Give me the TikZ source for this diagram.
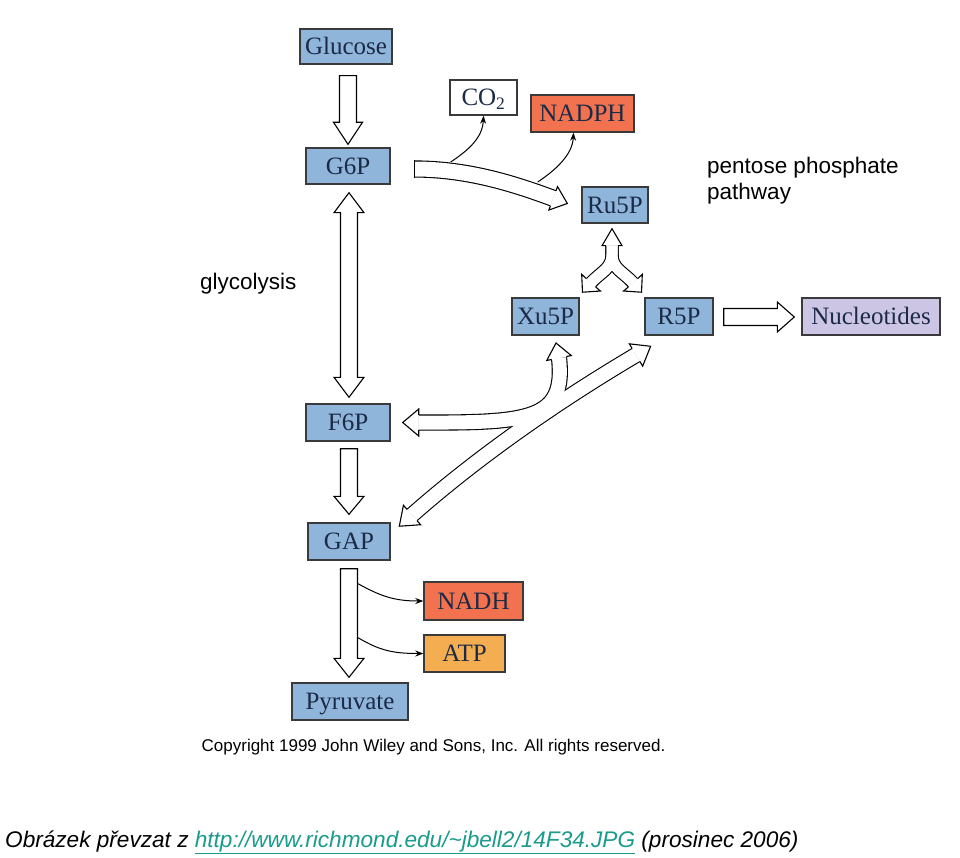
\documentclass[tikz,border=0pt]{standalone}
\usepackage{fontspec}
\setmainfont{Liberation Serif}
\setsansfont{Liberation Sans}
\usetikzlibrary{calc,arrows.meta}
\definecolor{bblue}{HTML}{8FB5DB}
\definecolor{bred}{HTML}{F2714F}
\definecolor{borange}{HTML}{F5AD52}
\definecolor{blilac}{HTML}{CDC5E4}
\definecolor{boxtext}{HTML}{1B2A45}
\definecolor{linkc}{HTML}{1A9B8C}
\definecolor{boxline}{HTML}{3A3A3A}
\tikzset{
  box/.style={draw=boxline, line width=1.4pt, inner sep=0pt, minimum height=36pt,
    text=boxtext, text height=16.5pt, text depth=0pt, font=\fontsize{25}{25}\selectfont},
  hollow/.style={draw=black, line width=1.1pt, fill=white, line join=miter},
  outerline/.style={draw=black, line width=#1},
  innerline/.style={draw=white, line width=#1},
  thinarrow/.style={draw=black, line width=1pt, -{Stealth[length=8pt,width=6pt]}},
  sanstext/.style={font=\sffamily\fontsize{22.5}{26}\selectfont, inner sep=0pt}
}
% straight block arrow: from, to, shaft half, head half, head length
\newcommand\straightarrow[5]{%
  \coordinate (sa-b) at ($(#2)!#5!(#1)$);
  \filldraw[hollow] ($(#1)!#3!90:(#2)$) -- ($(sa-b)!#3!90:(#2)$) -- ($(sa-b)!#4!90:(#2)$) -- (#2)
    -- ($(sa-b)!#4!-90:(#2)$) -- ($(sa-b)!#3!-90:(#2)$) -- ($(#1)!#3!-90:(#2)$) -- cycle;
}
% double-headed straight block arrow
\newcommand\doublearrow[5]{%
  \coordinate (da-a) at ($(#1)!#5!(#2)$);
  \coordinate (da-b) at ($(#2)!#5!(#1)$);
  \filldraw[hollow] (#1) -- ($(da-a)!#4!90:(#2)$) -- ($(da-a)!#3!90:(#2)$) -- ($(da-b)!#3!90:(#2)$)
    -- ($(da-b)!#4!90:(#2)$) -- (#2) -- ($(da-b)!#4!-90:(#2)$) -- ($(da-b)!#3!-90:(#2)$)
    -- ($(da-a)!#3!-90:(#2)$) -- ($(da-a)!#4!-90:(#2)$) -- cycle;
}
% open head for a curved shaft: base, tip, shaft half, head half
\newcommand\openhead[4]{%
  \filldraw[hollow] ($(#1)!#3!90:(#2)$) -- ($(#1)!#4!90:(#2)$) -- (#2) -- ($(#1)!#4!-90:(#2)$) -- ($(#1)!#3!-90:(#2)$);
}
\begin{document}
\begin{tikzpicture}[x=1pt,y=1pt]
\useasboundingbox[fill=white] (0,0) rectangle (960,-858);

% ---- boxes
\node[box, fill=bblue, minimum width=92pt, minimum height=35pt] (glucose) at (346,-46.5) {Glucose};
\node[box, fill=bblue, minimum width=84pt] (g6p) at (348,-166) {G6P};
\node[box, fill=white, minimum width=67pt, minimum height=35pt] (co2) at (483.5,-97.5) {CO\textsubscript{2}};
\node[box, fill=bred, minimum width=103pt, minimum height=37pt] (nadph) at (582.5,-113.5) {NADPH};
\node[box, fill=bblue, minimum width=66pt] (ru5p) at (615,-205) {Ru5P};
\node[box, fill=bblue, minimum width=67pt, minimum height=37pt] (xu5p) at (545.5,-316.5) {Xu5P};
\node[box, fill=bblue, minimum width=68pt, minimum height=37pt] (r5p) at (679,-316.5) {R5P};
\node[box, fill=blilac, minimum width=138pt, minimum height=37pt] (nucl) at (871,-316.5) {Nucleotides};
\node[box, fill=bblue, minimum width=84pt, minimum height=37pt] (f6p) at (348,-422.5) {F6P};
\node[box, fill=bblue, minimum width=82pt, minimum height=37pt] (gap) at (349,-541.5) {GAP};
\node[box, fill=bred, minimum width=99pt, minimum height=38pt] (nadh) at (473.5,-601) {NADH};
\node[box, fill=borange, minimum width=81pt, minimum height=37pt] (atp) at (464.5,-653.5) {ATP};
\node[box, fill=bblue, minimum width=116pt, minimum height=37pt] (pyr) at (350,-701.5) {Pyruvate};

% ---- labels
\node[sanstext, anchor=base west] (ppp1) at (707,-174) {pentose phosphate};
\node[sanstext, anchor=base west] (ppp2) at (707,-200) {pathway};
\node[sanstext, anchor=base west] (glyc) at (200,-290) {glycolysis};
\node[font=\sffamily\fontsize{17}{17}\selectfont, inner sep=0pt, anchor=base] (copy) at (433.5,-751) {Copyright 1999 John Wiley and Sons, Inc. All rights reserved.};
\node[font=\sffamily\itshape\fontsize{22.6}{26}\selectfont, inner sep=0pt, anchor=base west] (caption) at (5,-847)
  {Obrázek převzat z {\color{linkc}\underline{http://www.richmond.edu/\textasciitilde jbell2/14F34.JPG}} (prosinec 2006)};

% ---- straight block arrows
\coordinate (a1s) at ($(g6p.north |- glucose.south)+(0,-11)$);
\coordinate (a1e) at ($(g6p.north)+(0,3)$);
\straightarrow{a1s}{a1e}{8.5pt}{14.5pt}{22pt}
\coordinate (a2s) at ($(g6p.south)+(1,-8)$);
\coordinate (a2e) at ($(f6p.north)+(1,6)$);
\doublearrow{a2s}{a2e}{8.5pt}{15pt}{20pt}
\coordinate (a3s) at ($(f6p.south)+(1,-7)$);
\coordinate (a3e) at ($(f6p.south |- gap.north)+(1,8)$);
\straightarrow{a3s}{a3e}{8.5pt}{15pt}{18pt}
\coordinate (a4s) at ($(gap.south)+(0,-8)$);
\coordinate (a4e) at ($(gap.south |- pyr.north)+(0,5)$);
\straightarrow{a4s}{a4e}{8.5pt}{15pt}{19pt}
\coordinate (a5s) at ($(r5p.east)+(10,-0.5)$);
\coordinate (a5e) at ($(nucl.west)+(-7,-0.5)$);
\straightarrow{a5s}{a5e}{8.5pt}{15pt}{17pt}

% ---- G6P -> Ru5P curved block arrow
\coordinate (p1s) at ($(g6p.east)+(24,-3)$);
\coordinate (p1t) at ($(ru5p.west)+(-14,1.5)$);
\coordinate (p1b) at ($(p1t)+(-14.1,5.2)$);
\draw[outerline=17.2pt] (p1s) .. controls ($(p1s)+(56,0)$) and ($(p1b)+(-34,12.5)$) .. (p1b);
\draw[innerline=15pt] (p1s) .. controls ($(p1s)+(56,0)$) and ($(p1b)+(-34,12.5)$) .. (p1b);
\draw[line width=1.1pt] ($(p1s)+(0,8.6)$) -- ($(p1s)+(0,-8.6)$);
\openhead{p1b}{p1t}{8.05pt}{12.5pt}

% thin arrows to CO2 and NADPH
\coordinate (co2s) at ($(p1s)+(36,7)$);
\draw[thinarrow] (co2s) .. controls ($(co2s)+(18,12)$) and ($(co2.south)+(-1,-22)$) .. (co2.south);
\coordinate (nadphs) at ($(p1s)+(123,-13)$);
\draw[thinarrow] (nadphs) .. controls ($(nadphs)+(18,12)$) and ($(nadph.south)+(-10,-22)$) .. ($(nadph.south)+(-9,0)$);

% ---- Ru5P <-> Xu5P / R5P three-way arrow
\coordinate (rt) at ($(ru5p.south)+(-3,-5)$);
\coordinate (rb) at ($(rt)+(0,-17)$);
\coordinate (rsplit) at ($(rb)+(0,-9)$);
\coordinate (rlb) at ($(rb)+(-21,-37)$);
\coordinate (rlt) at ($(rlb)+(-8.5,-9.5)$);
\coordinate (rrb) at ($(rb)+(21,-37)$);
\coordinate (rrt) at ($(rrb)+(8.5,-9.5)$);
\draw[outerline=13.2pt] (rb) -- (rsplit) .. controls ($(rsplit)+(0,-14)$) and ($(rlb)+(9.5,10.5)$) .. (rlb);
\draw[outerline=13.2pt] (rb) -- (rsplit) .. controls ($(rsplit)+(0,-14)$) and ($(rrb)+(-9.5,10.5)$) .. (rrb);
\draw[innerline=11pt] (rb) -- (rsplit) .. controls ($(rsplit)+(0,-14)$) and ($(rlb)+(9.5,10.5)$) .. (rlb);
\draw[innerline=11pt] (rb) -- (rsplit) .. controls ($(rsplit)+(0,-14)$) and ($(rrb)+(-9.5,10.5)$) .. (rrb);
\openhead{rb}{rt}{6.05pt}{10pt}
\openhead{rlb}{rlt}{6.05pt}{12.5pt}
\openhead{rrb}{rrt}{6.05pt}{12.5pt}

% ---- F6P <-> Xu5P and GAP <-> R5P arrows
\coordinate (ft) at ($(f6p.east)+(12,0)$);
\coordinate (fb) at ($(ft)+(16,0)$);
\coordinate (xb) at (559,-358);
\coordinate (xt) at (556,-343);
\coordinate (gt) at (399.3,-526.2);
\coordinate (gb) at (412,-515);
\coordinate (rb2) at (636,-355);
\coordinate (rt2) at (650.6,-346.3);
\draw[outerline=16.2pt] (gb) .. controls (480,-455) and (560,-400) .. (rb2);
\draw[outerline=16.2pt] (fb) .. controls (530,-423) and (566,-420) .. (xb);
\draw[innerline=14pt] (gb) .. controls (480,-455) and (560,-400) .. (rb2);
\draw[innerline=14pt] (fb) .. controls (530,-423) and (566,-420) .. (xb);
\openhead{fb}{ft}{7.55pt}{13.5pt}
\openhead{xb}{xt}{7.55pt}{12.5pt}
\openhead{gb}{gt}{7.55pt}{13pt}
\openhead{rb2}{rt2}{7.55pt}{13pt}

% ---- thin arrows to NADH and ATP
\coordinate (nadhs) at ($(a4s)+(9,-15)$);
\draw[thinarrow] (nadhs) .. controls ($(nadhs)+(22,-12)$) and ($(nadh.west)+(-30,0)$) .. (nadh.west);
\coordinate (atps) at ($(a4s)+(9,-69)$);
\draw[thinarrow] (atps) .. controls ($(atps)+(22,-13)$) and ($(atp.west)+(-30,0)$) .. (atp.west);
\end{tikzpicture}
\end{document}
